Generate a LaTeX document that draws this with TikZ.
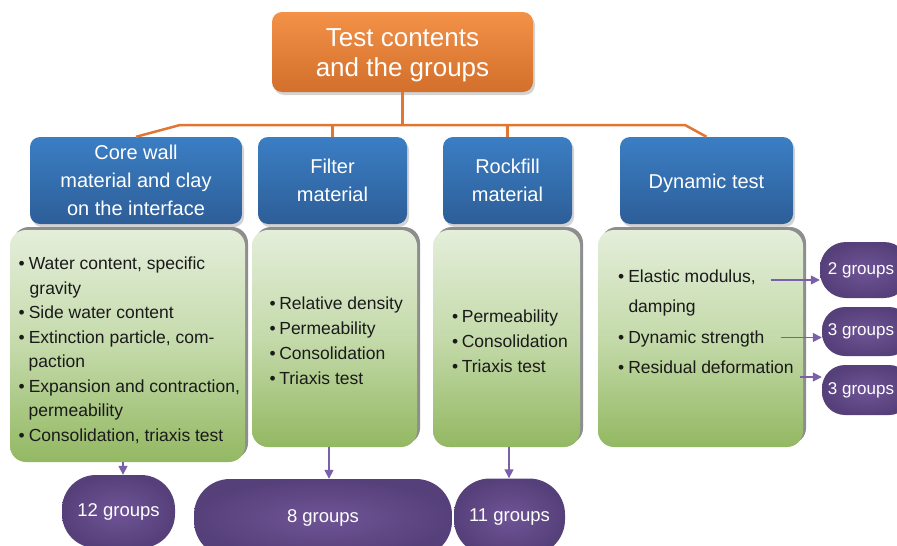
\documentclass[tikz,border=0pt]{standalone}
\usepackage{fontspec}
\setmainfont{Liberation Sans}
\usetikzlibrary{shadows,arrows.meta}
\definecolor{orT}{HTML}{F39147}
\definecolor{orB}{HTML}{D2702C}
\definecolor{orL}{HTML}{E07632}
\definecolor{blT}{HTML}{3B7EC4}
\definecolor{blB}{HTML}{2D5E98}
\definecolor{grT}{HTML}{E4EEDA}
\definecolor{grM}{HTML}{C4DAAA}
\definecolor{grB}{HTML}{93B862}
\definecolor{bevel}{HTML}{8E8E8E}
\definecolor{puI}{HTML}{6F5496}
\definecolor{puO}{HTML}{56407A}
\definecolor{puA}{HTML}{7A60A8}
\definecolor{txt}{HTML}{1A1A1A}
\begin{document}
\begin{tikzpicture}[x=1pt,y=-1pt,
  topbox/.style={rectangle, rounded corners=10pt, top color=orT, bottom color=orB,
    inner sep=0pt,
    drop shadow={opacity=0.35, shadow xshift=2pt, shadow yshift=-3pt}},
  toplab/.style={text=white, font=\fontsize{26}{30}\selectfont, align=center, inner sep=0pt},
  catbox/.style={rectangle, rounded corners=10pt, top color=blT, bottom color=blB,
    text=white, font=\fontsize{20}{28}\selectfont, align=center, inner sep=0pt,
    drop shadow={opacity=0.35, shadow xshift=2pt, shadow yshift=-3pt}},
  catlab/.style={text=white, font=\fontsize{20}{28}\selectfont, inner sep=0pt},
  listbox/.style={rectangle, rounded corners=16pt, top color=grT, bottom color=grB,
    middle color=grM, inner sep=0pt,
    drop shadow={shadow xshift=3pt, shadow yshift=3pt, fill=bevel, opacity=1}},
  grp/.style={rectangle, inner sep=0pt, shading=radial, inner color=puI, outer color=puO,
    text=white, font=\fontsize{18.5}{20}\selectfont},
  grplab/.style={inner sep=0pt, text=white, font=\fontsize{17}{20}\selectfont},
  li/.style={anchor=base west, inner sep=0pt, font=\fontsize{17.5}{20}\selectfont, text=txt},
  link/.style={draw=orL, line width=2.5pt},
  arr/.style={draw=puA, line width=1.6pt, -{Triangle[length=9pt,width=9pt]}}
]
\useasboundingbox (0,0) rectangle (897,546);
\clip (0,0) rectangle (897,546);

% top
\node[topbox, minimum width=261pt, minimum height=80pt,
  label={[toplab, yshift=-3pt]center:{Test contents\\and the groups}}] (top) at (402.5,52) {};

% category boxes
\node[catbox, minimum width=212pt, minimum height=87pt] (b1) at (136,180.5)
  {Core wall\\material and clay\\on the interface};
\node[catbox, minimum width=149pt, minimum height=87pt] (b2) at (332.5,180.5)
  {Filter\\material};
\node[catbox, minimum width=129pt, minimum height=87pt] (b3) at (507.5,180.5)
  {Rockfill\\material};
\node[catbox, minimum width=173pt, minimum height=87pt,
  label={[catlab, yshift=-3pt]center:Dynamic test}] (b4) at (706.5,180.5) {};

% connectors
\coordinate (hl) at (180,125);
\coordinate (hr) at (685,125);
\draw[link] (top.south) -- (top.south |- hl);
\draw[link, line join=round] (b1.north) -- (hl) -- (hr) -- (b4.north);
\draw[link] (b2.north) -- (b2.north |- hl);
\draw[link] (b3.north) -- (b3.north |- hl);

% list boxes
\node[listbox, minimum width=235pt, minimum height=232pt] (g1) at (127.5,346) {};
\node[listbox, minimum width=165pt, minimum height=217pt] (g2) at (334.5,338.5) {};
\node[listbox, minimum width=147pt, minimum height=217pt] (g3) at (506.5,338.5) {};
\node[listbox, minimum width=205pt, minimum height=217pt] (g4) at (700.5,338.5) {};

% list texts
\node[li] (l1) at (18.5,269) {\textbullet\hspace{4pt}Water content, specific};
\node[li] (l2) at (29.5,294) {gravity};
\node[li] (l3) at (18.5,318.5) {\textbullet\hspace{4pt}Side water content};
\node[li] (l4) at (18.5,343) {\textbullet\hspace{4pt}Extinction particle, com-};
\node[li] (l5) at (28.5,367.5) {paction};
\node[li] (l6) at (18.5,392) {\textbullet\hspace{4pt}Expansion and contraction,};
\node[li] (l7) at (28.5,416.5) {permeability};
\node[li] (l8) at (18.5,441) {\textbullet\hspace{4pt}Consolidation, triaxis test};

\node[li] (f1) at (269.5,309.5) {\textbullet\hspace{3.5pt}Relative density};
\node[li] (f2) at (269.5,334.3) {\textbullet\hspace{3.5pt}Permeability};
\node[li] (f3) at (269.5,359) {\textbullet\hspace{3.5pt}Consolidation};
\node[li] (f4) at (269.5,384) {\textbullet\hspace{3.5pt}Triaxis test};

\node[li] (k1) at (452,322) {\textbullet\hspace{3.5pt}Permeability};
\node[li] (k2) at (452,347) {\textbullet\hspace{3.5pt}Consolidation};
\node[li] (k3) at (452,372) {\textbullet\hspace{3.5pt}Triaxis test};

\node[li] (d1) at (618,282) {\textbullet\hspace{4pt}Elastic modulus,};
\node[li] (d2) at (628.3,312.5) {damping};
\node[li] (d3) at (618,343) {\textbullet\hspace{4pt}Dynamic strength};
\node[li] (d4) at (618,373.5) {\textbullet\hspace{4pt}Residual deformation};

% group blobs
\node[grp, rounded corners=34pt, minimum width=113pt, minimum height=73pt] (p12) at (118.5,511.5) {12 groups};
\node[grp, rounded corners=36pt, minimum width=258pt, minimum height=78pt] (p8) at (323,518) {8 groups};
\node[grp, rounded corners=36pt, minimum width=111pt, minimum height=77pt] (p11) at (509.5,517) {11 groups};
\node[grp, rounded corners=26pt, minimum width=90pt, minimum height=56pt,
  label={[grplab, xshift=-4pt]center:2 groups}] (q2) at (865,270) {};
\node[grp, rounded corners=23pt, minimum width=90pt, minimum height=49pt,
  label={[grplab, xshift=-6pt]center:3 groups}] (q3a) at (867,331.5) {};
\node[grp, rounded corners=23pt, minimum width=90pt, minimum height=50pt,
  label={[grplab, xshift=-6pt]center:3 groups}] (q3b) at (867,390) {};

% arrows
\draw[arr] ([xshift=-4.5pt]g1.south) -- ([xshift=-4.5pt]g1.south |- p12.north);
\draw[arr] ([xshift=-5.5pt]g2.south) -- ([xshift=-5.5pt]g2.south |- p8.north);
\draw[arr] ([xshift=2.5pt]g3.south) -- ([xshift=2.5pt]g3.south |- p11.north);
\draw[arr] ([xshift=15pt,yshift=2pt]d1.base east) -- ([yshift=2pt]d1.base east -| q2.west);
\draw[arr] ([xshift=16pt,yshift=5.5pt]d3.base east) -- ([yshift=5.5pt]d3.base east -| q3a.west);
\draw[arr] ([xshift=6pt,yshift=-3.5pt]d4.base east) -- ([yshift=-3.5pt]d4.base east -| q3b.west);
\end{tikzpicture}
\end{document}
